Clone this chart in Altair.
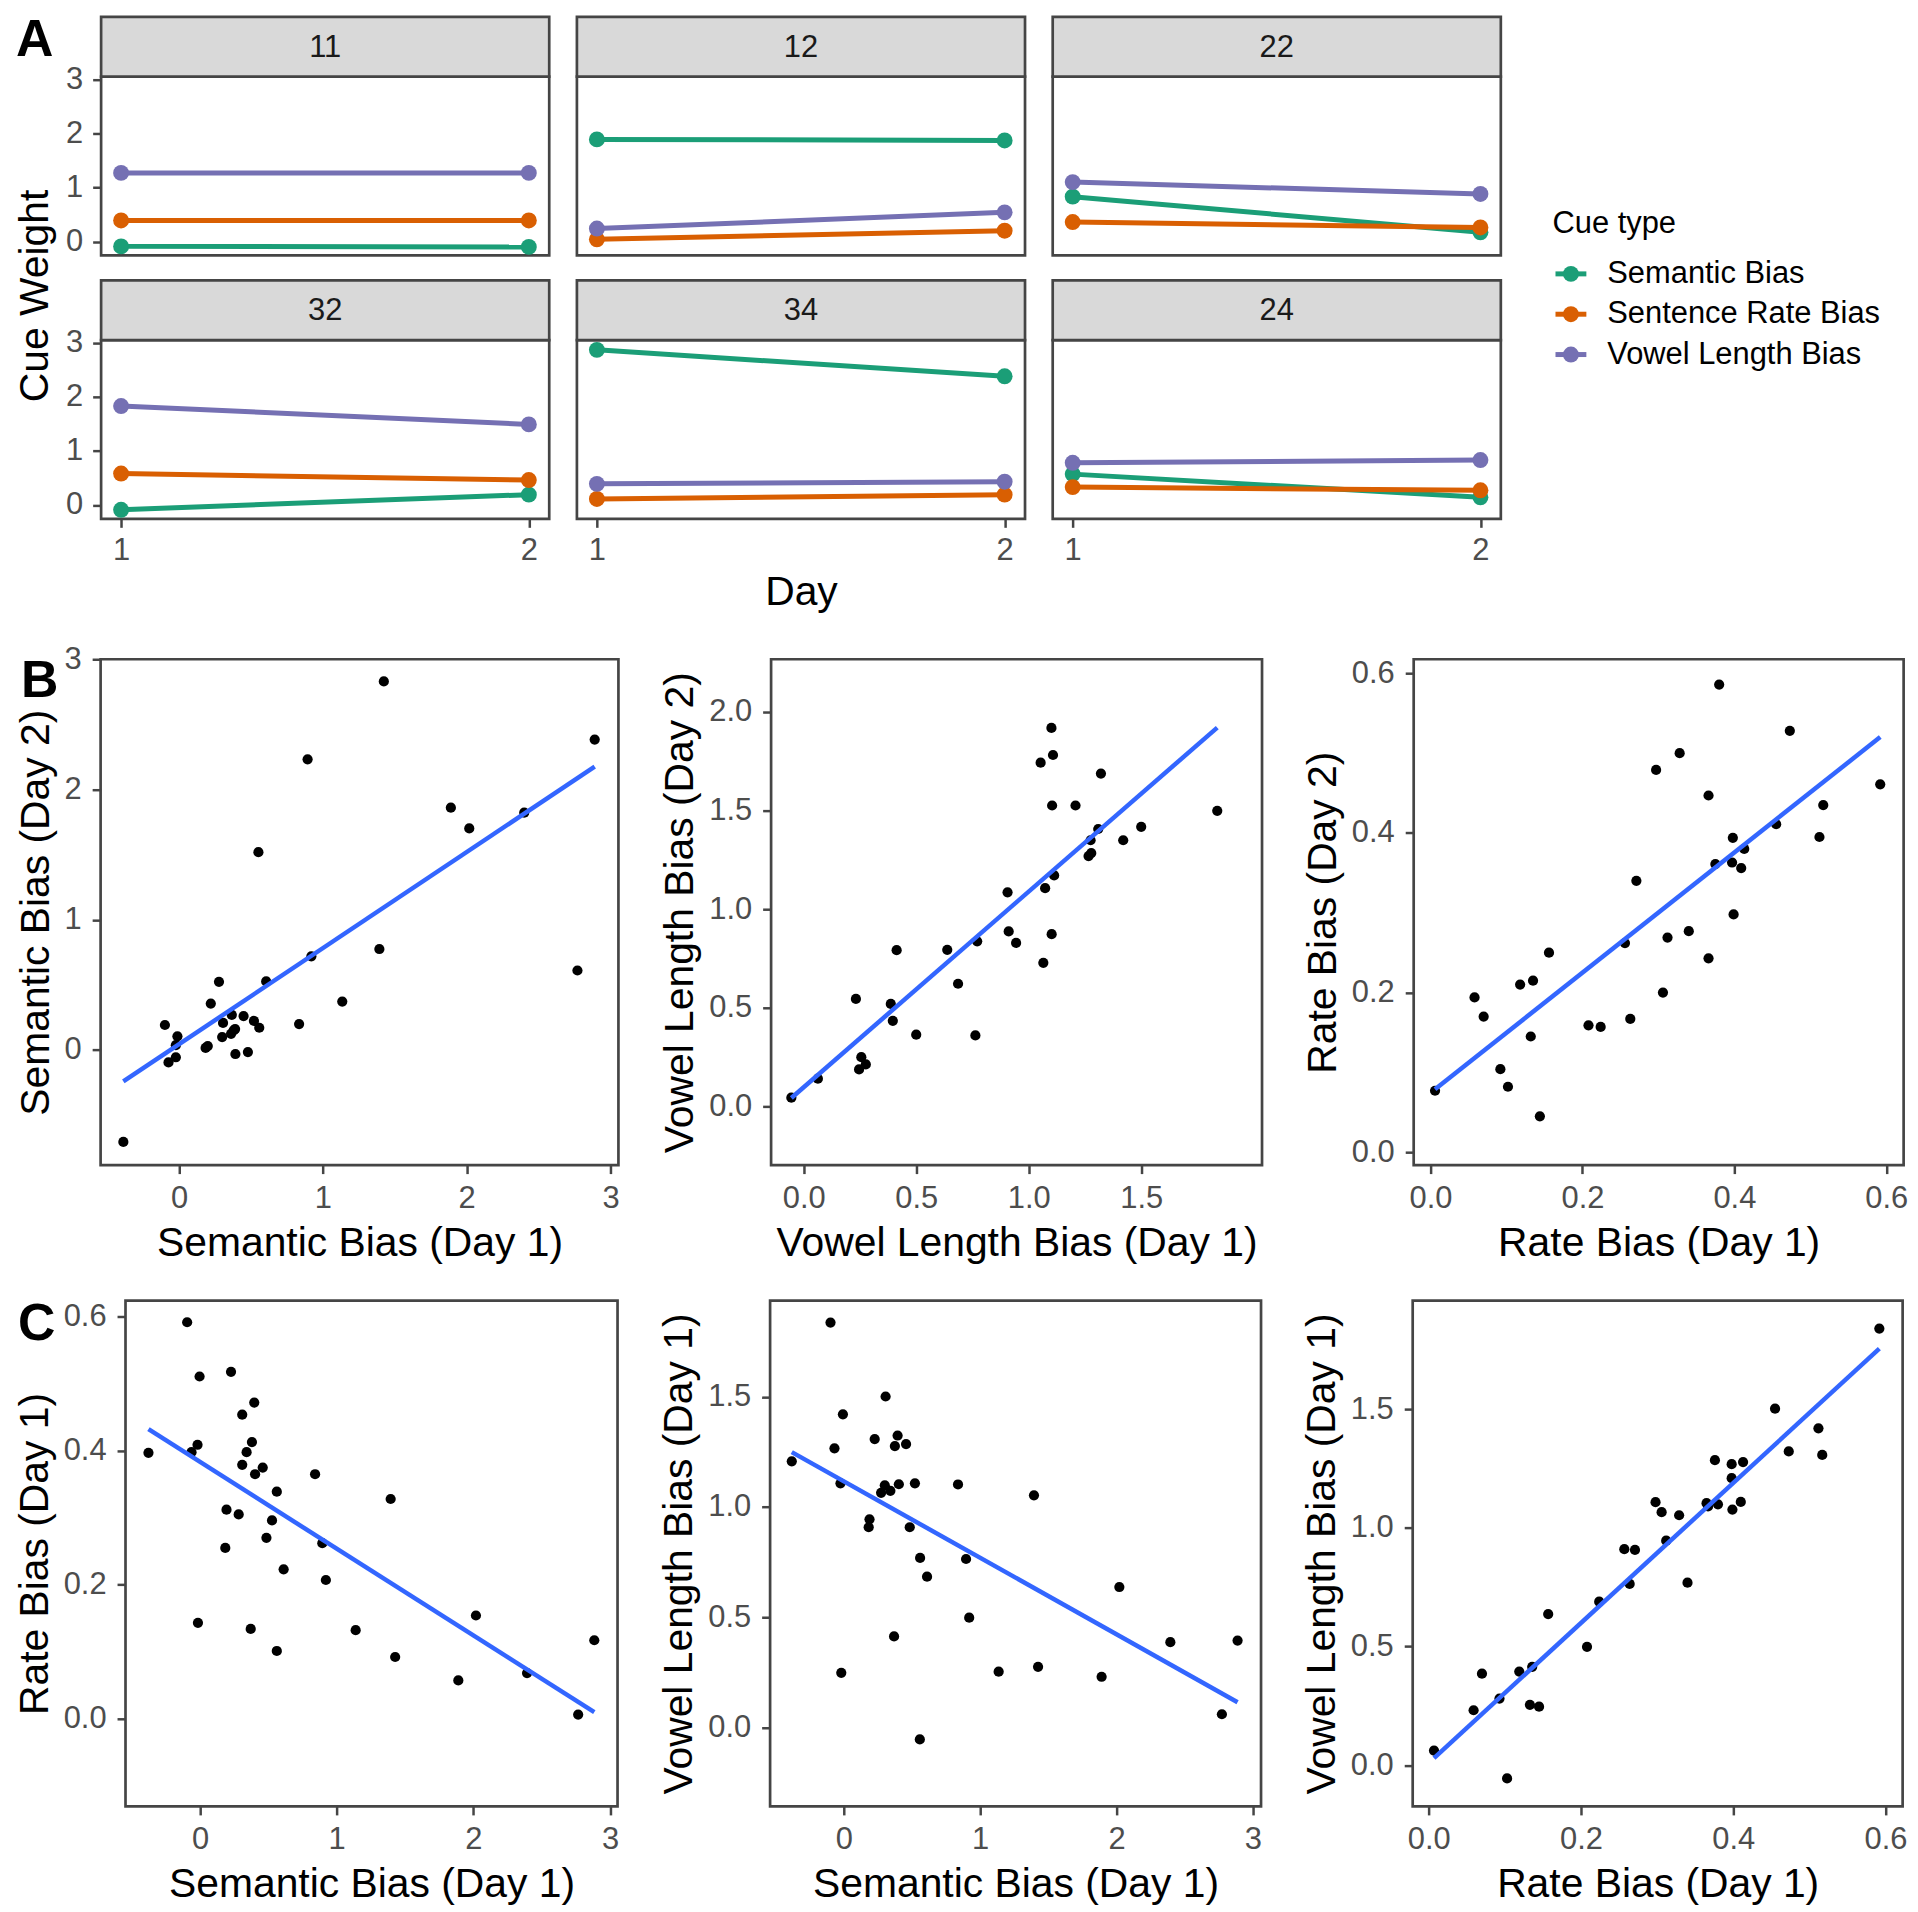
import altair as alt
import pandas as pd

FONT = "Liberation Sans"
FRAME = "#454545"
LABEL_GREY = "#4D4D4D"

# ---------------- Panel A data ----------------
SUBJECTS = ["11", "12", "22", "32", "34", "24"]
CUES = ["Semantic Bias", "Sentence Rate Bias", "Vowel Length Bias"]
CUE_COLORS = ["#1B9E77", "#D95F02", "#7570B3"]
DAYS = [1, 2]
SEM_DAY1 = [-0.09, 1.89, 0.83, -0.09, 2.87, 0.57]
SEM_DAY2 = [-0.10, 1.87, 0.17, 0.19, 2.38, 0.14]
RATE_DAY1 = [0.39, 0.04, 0.36, 0.58, 0.11, 0.33]
RATE_DAY2 = [0.39, 0.20, 0.26, 0.46, 0.19, 0.27]
VOWEL_DAY1 = [1.27, 0.24, 1.10, 1.83, 0.39, 0.78]
VOWEL_DAY2 = [1.27, 0.54, 0.88, 1.49, 0.43, 0.83]
A_Y_TICKS = [0, 1, 2, 3]

# ---------------- Panel B data ----------------
B1_X = [-0.387, 1.424, 2.890, 0.894, 1.890, 2.018, 2.400, 0.552, 1.393, 2.770, 0.920, 0.278,
        0.606, 0.221, 1.135, 0.835, -0.098, 0.367, 0.449, 0.306, 0.521, 0.558, 0.390, 0.362,
        0.300, -0.011, -0.022, 0.185, 0.392, 0.479, -0.073, -0.022, 0.380, 0.200]
B1_Y = [-0.707, 2.833, 2.386, 2.234, 1.862, 1.703, 1.824, 1.520, 0.776, 0.611, 0.720, 0.524,
        0.527, 0.357, 0.372, 0.199, 0.192, 0.270, 0.261, 0.208, 0.223, 0.171, 0.161, 0.124,
        0.099, 0.105, 0.037, 0.016, -0.031, -0.016, -0.096, -0.056, 0.150, 0.030]

B2_X = [-0.055, 0.063, 0.232, 0.256, 0.246, 0.276, 0.387, 0.396, 0.413, 0.500, 0.638, 0.686,
        0.763, 0.771, 0.906, 0.911, 0.944, 1.053, 1.101, 1.108, 1.104, 1.208, 1.065, 1.102,
        1.073, 1.113, 1.321, 1.266, 1.278, 1.275, 1.309, 1.420, 1.500, 1.838]
B2_Y = [0.045, 0.141, 0.545, 0.250, 0.188, 0.213, 0.520, 0.434, 0.792, 0.364, 0.794, 0.622,
        0.360, 0.837, 1.085, 0.887, 0.829, 1.742, 1.918, 1.781, 1.525, 1.525, 0.728, 0.873,
        1.106, 1.171, 1.687, 1.269, 1.284, 1.349, 1.406, 1.349, 1.417, 1.498]

B3_X = [0.006, 0.058, 0.070, 0.092, 0.102, 0.118, 0.135, 0.132, 0.144, 0.156, 0.208, 0.224,
        0.256, 0.263, 0.271, 0.297, 0.306, 0.312, 0.328, 0.340, 0.366, 0.366, 0.380, 0.375,
        0.398, 0.397, 0.413, 0.409, 0.399, 0.455, 0.473, 0.512, 0.517, 0.592]
B3_Y = [0.077, 0.194, 0.170, 0.104, 0.082, 0.210, 0.215, 0.145, 0.045, 0.250, 0.159, 0.157,
        0.262, 0.167, 0.340, 0.479, 0.200, 0.269, 0.500, 0.277, 0.447, 0.243, 0.586, 0.361,
        0.394, 0.363, 0.380, 0.356, 0.298, 0.411, 0.528, 0.395, 0.435, 0.461]

# ---------------- Panel C data ----------------
C1_X = [-0.377, -0.094, -0.003, 0.227, 0.397, 0.309, 0.380, 0.341, -0.018, -0.062, 0.309, 0.459,
        0.403, 0.842, 0.562, 1.395, 0.194, 0.283, 0.527, 0.486, 0.185, 0.895, 0.612, 0.921,
        2.019, -0.015, 0.371, 1.139, 0.562, 1.428, 1.890, 2.393, 2.767, 2.885]
C1_Y = [0.397, 0.592, 0.511, 0.518, 0.472, 0.454, 0.413, 0.398, 0.409, 0.398, 0.379, 0.375,
        0.365, 0.365, 0.339, 0.328, 0.312, 0.305, 0.296, 0.270, 0.255, 0.262, 0.223, 0.207,
        0.154, 0.143, 0.134, 0.132, 0.101, 0.092, 0.057, 0.068, 0.006, 0.117]

C2_X = [-0.381, -0.097, -0.068, -0.006, -0.024, -0.018, 0.307, 0.227, 0.395, 0.375, 0.457, 0.301,
        0.342, 0.274, 0.404, 0.522, 0.189, 0.183, 0.484, 0.838, 0.560, 0.897, 0.611, 1.395,
        0.369, 0.920, 2.021, 1.136, 1.425, 1.891, 2.395, 2.888, 2.773, 0.558]
C2_Y = [1.207, 1.836, 1.266, 1.420, 1.107, 0.248, 1.501, 1.308, 1.324, 1.276, 1.285, 1.098,
        1.073, 1.064, 1.103, 1.107, 0.944, 0.908, 0.908, 1.102, 0.769, 0.764, 0.684, 1.053,
        0.413, 0.498, 0.637, 0.253, 0.275, 0.230, 0.387, 0.394, 0.060, -0.054]

C3_X = [0.007, 0.103, 0.059, 0.070, 0.093, 0.119, 0.136, 0.133, 0.145, 0.157, 0.208, 0.224,
        0.257, 0.271, 0.264, 0.298, 0.306, 0.312, 0.329, 0.340, 0.365, 0.380, 0.376, 0.398,
        0.398, 0.413, 0.399, 0.410, 0.455, 0.473, 0.512, 0.517, 0.592, 0.367]
C3_Y = [0.062, -0.055, 0.232, 0.386, 0.281, 0.395, 0.415, 0.255, 0.247, 0.637, 0.499, 0.689,
        0.910, 0.907, 0.764, 1.108, 1.066, 0.946, 1.053, 0.769, 1.104, 1.099, 1.285, 1.268,
        1.209, 1.277, 1.077, 1.109, 1.502, 1.322, 1.419, 1.307, 1.839, 1.090]

TICKS_SEM = [0, 1, 2, 3]
TICKS_VOW_B = [0, 0.5, 1, 1.5, 2]
TICKS_VOW_X = [0, 0.5, 1, 1.5]
TICKS_VOW_C = [0, 0.5, 1, 1.5]
TICKS_RATE = [0, 0.2, 0.4, 0.6]

# ---------------- layout sizes ----------------
LABEL_FS, TITLE_FS = 31, 41
W_A, H_STRIP, H_A = 450, 60, 179.5
GAP_A_COL, GAP_A_ROW = 21.8, 18.5
PLOT_SPAN = 2 * H_A + GAP_A_ROW + H_STRIP + 2.85   # top of row-1 plots to bottom of row-2 plots
W_B = [520, 493, 492]
H_B = 508
W_C = [494.1, 493, 492]
H_C = 508
GAP_BC = 37.3
GAP_ROWS = 28
LEG_X = 41
LEG_TITLE_Y = 147.5
LEG_ROWS = [198, 279]

rows = []
for i, s in enumerate(SUBJECTS):
    for cue, d1, d2 in [(CUES[0], SEM_DAY1, SEM_DAY2),
                        (CUES[1], RATE_DAY1, RATE_DAY2),
                        (CUES[2], VOWEL_DAY1, VOWEL_DAY2)]:
        rows.append({"subject": s, "cue": cue, "day": DAYS[0], "weight": d1[i]})
        rows.append({"subject": s, "cue": cue, "day": DAYS[1], "weight": d2[i]})
dfA = pd.DataFrame(rows)

CSCALE = alt.Scale(domain=CUES, range=CUE_COLORS)


def letter_layer(letter, lx, ly):
    return alt.Chart(pd.DataFrame({"t": [letter]})).mark_text(
        font=FONT, fontSize=52, fontWeight="bold", color="black",
        align="left", baseline="alphabetic"
    ).encode(x=alt.value(lx), y=alt.value(ly), text="t:N")


def spacer():
    return alt.Chart(pd.DataFrame({"t": [""]})).mark_text().encode(
        x=alt.value(0), y=alt.value(0), text="t:N"
    ).properties(width=1, height=1, view=alt.ViewBackground(stroke="transparent"))


def a_panel(i):
    s = SUBJECTS[i]
    df = dfA[dfA["subject"] == s]
    bottom = i >= 3
    left = i % 3 == 0
    if bottom:
        xaxis = alt.Axis(values=DAYS, format="d", title=("Day" if i == 4 else None),
                         labelPadding=8, titlePadding=8)
    else:
        xaxis = None
    yaxis = alt.Axis(values=A_Y_TICKS, format="d", title=None, labelPadding=10) if left else None
    xenc = alt.X("day:Q", scale=alt.Scale(domain=[0.951, 2.05], nice=False, zero=False), axis=xaxis)
    yenc = alt.Y("weight:Q", scale=alt.Scale(domain=[-0.258, 3.05], nice=False, zero=False), axis=yaxis)
    lab = pd.DataFrame({"lab": [s]})
    strip_bg = alt.Chart(lab).mark_rect(fill="#D9D9D9", stroke=FRAME, strokeWidth=2.7).encode(
        x=alt.value(0), x2=alt.value(W_A), y=alt.value(-H_STRIP), y2=alt.value(0))
    strip_txt = alt.Chart(lab).mark_text(
        font=FONT, fontSize=31, color="#1A1A1A", align="center", baseline="middle"
    ).encode(x=alt.value(W_A / 2), y=alt.value(-H_STRIP / 2 + 1), text="lab:N")
    lines = alt.Chart(df).mark_line(strokeWidth=5).encode(
        x=xenc, y=yenc, color=alt.Color("cue:N", scale=CSCALE, legend=None))
    pts = alt.Chart(df).mark_circle(size=255, opacity=1).encode(
        x=xenc, y=yenc, color=alt.Color("cue:N", scale=CSCALE, legend=None))
    return alt.layer(strip_bg, strip_txt, lines, pts).properties(width=W_A, height=H_A)


def scatter(xs, ys, xdom, ydom, xticks, yticks, xfmt, yfmt, xtitle, ytitle, w, h,
            letter=None, lx=0, ly=0):
    df = pd.DataFrame({"x": xs, "y": ys})
    xenc = alt.X("x:Q", scale=alt.Scale(domain=xdom, nice=False, zero=False),
                 axis=alt.Axis(values=xticks, format=xfmt, title=xtitle))
    yenc = alt.Y("y:Q", scale=alt.Scale(domain=ydom, nice=False, zero=False),
                 axis=alt.Axis(values=yticks, format=yfmt, title=ytitle))
    pts = alt.Chart(df).mark_circle(size=105, color="black", opacity=1).encode(x=xenc, y=yenc)
    fit = alt.Chart(df).transform_regression("x", "y").mark_line(
        color="#3366FF", strokeWidth=4.5).encode(x=xenc, y=yenc)
    layers = [pts, fit]
    if letter:
        layers.append(letter_layer(letter, lx, ly))
    return alt.layer(*layers).properties(width=w, height=h)


# ---- left column of panel A: shared y title and panel letter ----
cw_text = alt.Chart(pd.DataFrame({"t": ["Cue Weight"]})).mark_text(
    font=FONT, fontSize=TITLE_FS, color="black", angle=270, align="center", baseline="middle"
).encode(x=alt.value(20), y=alt.value(PLOT_SPAN / 2), text="t:N")
cw_col = alt.layer(cw_text, letter_layer("A", 0, -21)).properties(
    width=40, height=PLOT_SPAN, view=alt.ViewBackground(stroke="transparent"))

# ---- legend for panel A (cue type) ----
leg_df = pd.DataFrame({"cue": CUES})
leg_y = alt.Y("cue:N", scale=alt.Scale(type="point", domain=CUES, range=LEG_ROWS, padding=0), axis=None)
leg_col = alt.Color("cue:N", scale=CSCALE, legend=None)
leg_line = alt.Chart(leg_df).mark_rule(strokeWidth=5).encode(
    x=alt.value(LEG_X + 3), x2=alt.value(LEG_X + 34), y=leg_y, color=leg_col)
leg_dot = alt.Chart(leg_df).mark_circle(size=255, opacity=1).encode(
    x=alt.value(LEG_X + 18.5), y=leg_y, color=leg_col)
leg_lab = alt.Chart(leg_df).mark_text(
    font=FONT, fontSize=31, color="black", align="left", baseline="middle"
).encode(x=alt.value(LEG_X + 55), y=leg_y, text="cue:N")
leg_title = alt.Chart(pd.DataFrame({"t": ["Cue type"]})).mark_text(
    font=FONT, fontSize=31, color="black", align="left", baseline="middle"
).encode(x=alt.value(LEG_X), y=alt.value(LEG_TITLE_Y), text="t:N")
legend = alt.layer(leg_line, leg_dot, leg_lab, leg_title).properties(
    width=380, height=PLOT_SPAN, view=alt.ViewBackground(stroke="transparent"))

cells = [a_panel(i) for i in range(6)]
rowA1 = alt.hconcat(*cells[:3], spacing=GAP_A_COL)
rowA2 = alt.hconcat(*cells[3:], spacing=GAP_A_COL)
gridA = alt.vconcat(rowA1, rowA2, spacing=GAP_A_ROW)
rowA = alt.hconcat(spacer(), alt.hconcat(cw_col, gridA, legend, spacing=5.5), spacing=0)

B1 = scatter(B1_X, B1_Y, [-0.545, 3.055], [-0.885, 3.003], TICKS_SEM, TICKS_SEM, "d", "d",
             "Semantic Bias (Day 1)", "Semantic Bias (Day 2)", W_B[0], H_B, "B", -80, 38)
B2 = scatter(B2_X, B2_Y, [-0.145, 2.037], [-0.297, 2.266], TICKS_VOW_X, TICKS_VOW_B, ".1f", ".1f",
             "Vowel Length Bias (Day 1)", "Vowel Length Bias (Day 2)", W_B[1], H_B)
B3 = scatter(B3_X, B3_Y, [-0.0221, 0.6228], [-0.0162, 0.6177], TICKS_RATE, TICKS_RATE, ".1f", ".1f",
             "Rate Bias (Day 1)", "Rate Bias (Day 2)", W_B[2], H_B)
rowB = alt.hconcat(spacer(), alt.hconcat(B1, B2, B3, spacing=GAP_BC), spacing=0)

C1 = scatter(C1_X, C1_Y, [-0.545, 3.055], [-0.1312, 0.6244], TICKS_SEM, TICKS_RATE, "d", ".1f",
             "Semantic Bias (Day 1)", "Rate Bias (Day 1)", W_C[0], H_C, "C", -108, 40)
C2 = scatter(C2_X, C2_Y, [-0.54, 3.06], [-0.358, 1.936], TICKS_SEM, TICKS_VOW_C, "d", ".1f",
             "Semantic Bias (Day 1)", "Vowel Length Bias (Day 1)", W_C[1], H_C)
C3 = scatter(C3_X, C3_Y, [-0.021, 0.6226], [-0.173, 1.957], TICKS_RATE, TICKS_VOW_C, ".1f", ".1f",
             "Rate Bias (Day 1)", "Vowel Length Bias (Day 1)", W_C[2], H_C)
rowC = alt.hconcat(spacer(), alt.hconcat(C1, C2, C3, spacing=GAP_BC), spacing=0)

chart = alt.vconcat(rowA, rowB, rowC, spacing=GAP_ROWS).properties(
    padding=0, background="white"
).configure_view(
    stroke=FRAME, strokeWidth=2.7
).configure_axis(
    domain=False, grid=False, tickColor=FRAME, tickWidth=2.5, tickSize=8.5,
    labelFont=FONT, labelFontSize=LABEL_FS, labelColor=LABEL_GREY,
    labelFlush=False, labelOverlap=False,
    titleFont=FONT, titleFontSize=TITLE_FS, titleFontWeight="normal", titleColor="black",
    titlePadding=12,
).configure_axisX(
    labelPadding=10, titlePadding=10
).configure_axisY(
    labelPadding=11, titlePadding=7
)

chart.save("out.html", embed_options={"renderer": "svg", "actions": False})
